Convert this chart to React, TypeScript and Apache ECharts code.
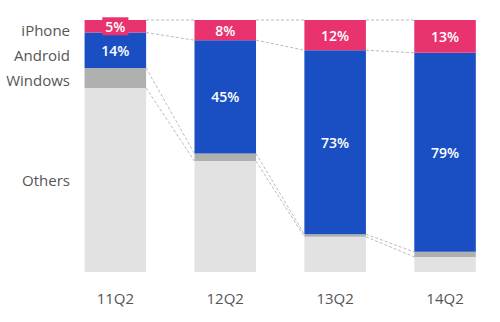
import React, { useEffect, useRef } from "react";
import * as echarts from "echarts";

const categories = ["11Q2", "12Q2", "13Q2", "14Q2"];
const others = [73, 44, 14, 6];
const windows = [8, 3, 1, 2];
const android = [14, 45, 73, 79];
const iphone = [5, 8, 12, 13];
const names = ["iPhone", "Android", "Windows", "Others"];

const PINK = "#E8336F";
const BLUE = "#1A4FC4";
const DARK_GRAY = "#B0B0B0";
const LIGHT_GRAY = "#E2E2E2";
const FONT = "'Open Sans', 'Noto Sans', sans-serif";

export default function App() {
  const ref = useRef<HTMLDivElement>(null);
  useEffect(() => {
    if (!ref.current) return;
    const chart = echarts.init(ref.current, null, { renderer: "svg" });
    const cumO = others.slice();
    const cumW = others.map((v, i) => v + windows[i]);
    const cumA = cumW.map((v, i) => v + android[i]);
    const cumT = cumA.map((v, i) => v + iphone[i]);
    const levels = [cumT, cumA, cumW, cumO];

    const labelBase = {
      show: true,
      position: "inside",
      color: "#fff",
      fontSize: 14,
      fontWeight: 600,
      fontFamily: FONT,
      formatter: (p: any) => `${p.value}%`,
    };

    const mkBar = (name: string, data: number[], color: string, label: any) => ({
      name,
      type: "bar",
      stack: "all",
      barWidth: "56%",
      data,
      itemStyle: { color },
      label,
      emphasis: { disabled: true },
    });

    const labelY = [30, 55, 80, 180];

    chart.setOption({
      animation: false,
      grid: { left: 60.4, top: 20, width: 448.8, bottom: 50 },
      xAxis: {
        type: "category",
        data: categories,
        axisLine: { show: false },
        axisTick: { show: false },
        axisLabel: { color: "#555", fontSize: 15, fontFamily: FONT, margin: 18 },
      },
      yAxis: { type: "value", min: 0, max: 100, show: false, splitLine: { show: false } },
      series: [
        mkBar("Others", others, LIGHT_GRAY, { show: false }),
        mkBar("Windows", windows, DARK_GRAY, { show: false }),
        mkBar("Android", android, BLUE, labelBase),
        mkBar("iPhone", iphone, PINK, {
          ...labelBase,
          backgroundColor: PINK,
          padding: [3, 3, 1, 3],
        }),
        {
          type: "custom",
          data: [[0, 0], [1, 0], [2, 0]],
          encode: { x: 0, y: 1 },
          silent: true,
          z: 5,
          renderItem: (params: any, api: any) => {
            const i = params.dataIndex;
            const hb = api.size([1, 0])[0] * 0.28;
            const children = levels.map((lv) => {
              const p1 = api.coord([i, lv[i]]);
              const p2 = api.coord([i + 1, lv[i + 1]]);
              return {
                type: "line",
                shape: { x1: p1[0] + hb, y1: p1[1], x2: p2[0] - hb, y2: p2[1] },
                style: { stroke: "#A8A8A8", lineWidth: 0.8, lineDash: [3, 2] },
              };
            });
            return { type: "group", children };
          },
        },
      ],
      graphic: names.map((n, k) => ({
        type: "text",
        x: 70,
        y: labelY[k],
        style: {
          text: n,
          fill: "#555",
          fontSize: 15,
          fontFamily: FONT,
          align: "right",
          verticalAlign: "middle",
          textAlign: "right",
          textVerticalAlign: "middle",
        },
      })),
    });
    return () => chart.dispose();
  }, []);
  return <div ref={ref} style={{ width: 500, height: 322, position: "absolute", left: 0, top: 0 }} />;
}
